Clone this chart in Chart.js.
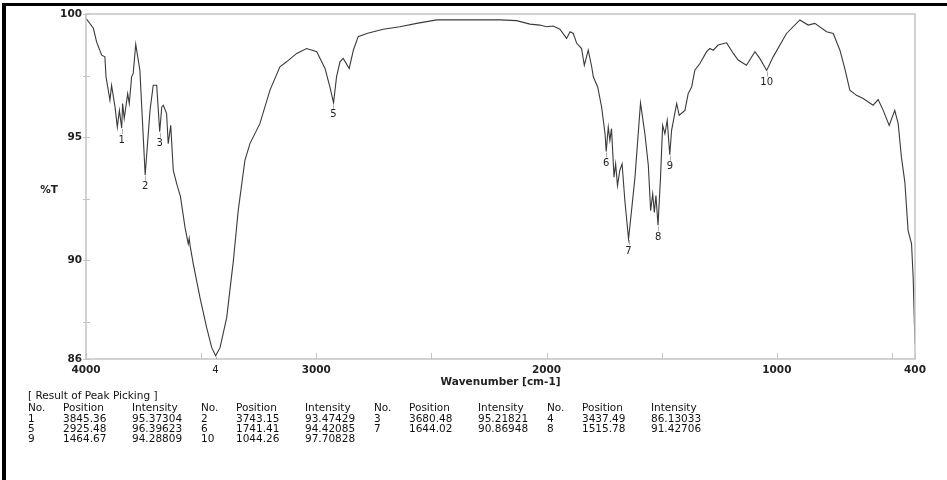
<!DOCTYPE html>
<html>
<head>
<meta charset="utf-8">
<script src="https://cdn.jsdelivr.net/npm/chart.js@4.4.1/dist/chart.umd.min.js"></script>
<style>
html,body{margin:0;padding:0;background:#fff;width:947px;height:480px;overflow:hidden;}
#wrap{position:relative;width:947px;height:480px;overflow:hidden;}
#frame{position:absolute;left:2px;top:3px;width:1000px;height:600px;border-left:4px solid #000;border-top:3px solid #000;}
#c{position:absolute;left:0;top:0;}
#table{position:absolute;left:0;top:0;font:10.5px "DejaVu Sans",sans-serif;color:#111;}
#table div{position:absolute;white-space:nowrap;line-height:12px;}
</style>
</head>
<body>
<div id="wrap">
  <div id="frame"></div>
  <canvas id="c" width="947" height="480"></canvas>
  <div id="table"></div>
</div>
<script>
// ---------------- data ----------------
const wavenumber = [
  4000, 3968, 3954, 3932, 3918, 3913, 3896, 3889, 3874, 3864, 3855, 3845, 3841, 3834, 3819, 3812,
  3802, 3795, 3784, 3766, 3743, 3722, 3708, 3693, 3680, 3671, 3664, 3650, 3643, 3632, 3621, 3606,
  3590, 3570, 3556, 3552, 3548, 3534, 3505, 3476, 3454, 3437, 3418, 3389, 3360, 3339, 3310, 3288,
  3245, 3201, 3158, 3129, 3085, 3042, 2998, 2962, 2941, 2925, 2912, 2897, 2883, 2857, 2839, 2818,
  2781, 2709, 2637, 2564, 2477, 2347, 2202, 2130, 2072, 2029, 2000, 1971, 1942, 1913, 1898, 1884,
  1869, 1848, 1836, 1819, 1804, 1797, 1778, 1761, 1746, 1741, 1732, 1725, 1718, 1707, 1700, 1692,
  1682, 1672, 1660, 1644, 1631, 1616, 1592, 1573, 1558, 1548, 1539, 1532, 1525, 1516, 1505, 1496,
  1486, 1476, 1465, 1457, 1435, 1424, 1399, 1385, 1370, 1356, 1334, 1305, 1291, 1276, 1255, 1218,
  1189, 1168, 1132, 1095, 1074, 1044, 1016, 958, 900, 864, 835, 784, 755, 726, 705, 683,
  654, 625, 582, 560, 538, 512, 488, 473, 459, 444, 430, 415, 408, 400
];
const transmittance = [
  99.82, 99.42, 98.87, 98.33, 98.26, 97.45, 96.50, 97.10, 96.23, 95.41, 96.09, 95.37, 96.37, 95.76, 96.77, 96.37,
  97.45, 97.59, 98.77, 97.72, 93.47, 96.09, 97.11, 97.11, 95.22, 96.23, 96.30, 95.96, 94.74, 95.48, 93.65, 93.11,
  92.60, 91.34, 90.67, 90.90, 90.60, 89.85, 88.49, 87.27, 86.46, 86.13, 86.46, 87.68, 89.99, 92.02, 94.06, 94.74,
  95.55, 96.91, 97.86, 98.06, 98.40, 98.60, 98.47, 97.79, 97.04, 96.40, 97.45, 98.06, 98.20, 97.79, 98.53, 99.08,
  99.21, 99.38, 99.48, 99.62, 99.76, 99.76, 99.76, 99.73, 99.59, 99.55, 99.48, 99.51, 99.38, 99.01, 99.28, 99.21,
  98.81, 98.60, 97.92, 98.53, 97.86, 97.45, 97.04, 96.23, 95.14, 94.42, 95.41, 94.87, 95.35, 93.38, 93.92, 93.04,
  93.65, 93.92, 92.43, 90.87, 92.02, 93.38, 96.39, 95.14, 93.85, 92.02, 92.70, 91.95, 92.63, 91.43, 93.38, 95.48,
  95.14, 95.69, 94.29, 95.28, 96.37, 95.89, 96.09, 96.77, 97.04, 97.72, 97.99, 98.47, 98.60, 98.53, 98.74, 98.83,
  98.40, 98.13, 97.92, 98.47, 98.20, 97.71, 98.26, 99.21, 99.76, 99.55, 99.62, 99.28, 99.21, 98.53, 97.79, 96.91,
  96.70, 96.57, 96.30, 96.53, 96.09, 95.48, 96.09, 95.55, 94.19, 93.17, 91.21, 90.67, 89.31, 86.60
];

// peak picking result
const peakNo  = [1, 2, 3, 4, 5, 6, 7, 8, 9, 10];
const peakPos = ["3845.36", "3743.15", "3680.48", "3437.49", "2925.48", "1741.41", "1644.02", "1515.78", "1464.67", "1044.26"];
const peakInt = ["95.37304", "93.47429", "95.21821", "86.13033", "96.39623", "94.42085", "90.86948", "91.42706", "94.28809", "97.70828"];

// axis ticks
const xTicks  = [4000, 3500, 3000, 2500, 2000, 1500, 1000, 500, 400];
const xLabels = [4000, 3000, 2000, 1000, 400];
const yTicks  = [86, 87.5, 90, 92.5, 95, 97.5, 100];
const yLabels = [86, 90, 95, 100];

const TICK_FONT = { family: "'DejaVu Sans', sans-serif", size: 10.5, weight: "bold" };

// ---------------- overlay: frame, inner ticks, peak labels, axis titles ----------------
const overlay = {
  id: "overlay",
  afterDatasetsDraw(chart){
    const { ctx, chartArea: a, scales: { x, y } } = chart;
    ctx.save();

    ctx.strokeStyle = "#c4c4c4";
    ctx.lineWidth = 1.5;
    ctx.strokeRect(a.left, a.top, a.right - a.left, a.bottom - a.top);

    ctx.lineWidth = 1;
    ctx.beginPath();
    xTicks.forEach(v => {
      const px = Math.round(x.getPixelForValue(v)) + 0.5;
      ctx.moveTo(px, a.bottom);
      ctx.lineTo(px, a.bottom - 6);
    });
    yTicks.forEach(v => {
      const py = Math.round(y.getPixelForValue(v)) + 0.5;
      ctx.moveTo(a.left - 3, py);
      ctx.lineTo(a.left + 4, py);
    });
    ctx.stroke();

    // peak numbers
    ctx.font = "10px 'DejaVu Sans', sans-serif";
    ctx.textAlign = "center";
    ctx.textBaseline = "middle";
    peakNo.forEach((n, i) => {
      const px = x.getPixelForValue(+peakPos[i]);
      const py = y.getPixelForValue(+peakInt[i]);
      ctx.strokeStyle = "#b0b0b0";
      ctx.beginPath();
      ctx.moveTo(Math.round(px) + 0.5, py + 1);
      ctx.lineTo(Math.round(px) + 0.5, Math.min(py + 6, a.bottom));
      ctx.stroke();
      let ly = py + 12;
      if (ly > a.bottom) ly = a.bottom + 11;
      ctx.fillStyle = "#222";
      ctx.fillText(String(n), px, ly);
    });

    ctx.font = "bold 10.5px 'DejaVu Sans', sans-serif";
    ctx.fillStyle = "#222";
    ctx.fillText("%T", a.left - 37, (a.top + a.bottom) / 2 + 4);
    ctx.fillText("Wavenumber [cm-1]", (a.left + a.right) / 2, a.bottom + 23);

    ctx.restore();
  }
};

// ---------------- chart ----------------
const points = wavenumber.map((w, i) => ({ x: w, y: transmittance[i] }));

new Chart(document.getElementById("c").getContext("2d"), {
  type: "line",
  data: {
    datasets: [{
      data: points,
      borderColor: "#3a3a3a",
      borderWidth: 1.1,
      pointRadius: 0,
      tension: 0,
      fill: false
    }]
  },
  options: {
    responsive: false,
    animation: false,
    layout: { padding: { left: 0, right: 32, top: 14, bottom: 81 } },
    plugins: { legend: { display: false }, tooltip: { enabled: false } },
    scales: {
      x: {
        type: "linear",
        reverse: true,
        min: 400,
        max: 4000,
        afterBuildTicks: s => { s.ticks = xTicks.map(v => ({ value: v })); },
        afterFit: s => { s.height = 40; },
        grid: { display: false, drawTicks: false },
        border: { display: false },
        ticks: {
          autoSkip: false,
          maxRotation: 0,
          padding: 5,
          color: "#222",
          font: TICK_FONT,
          callback: v => xLabels.includes(v) ? String(v) : ""
        }
      },
      y: {
        min: 86,
        max: 100,
        afterBuildTicks: s => { s.ticks = yTicks.map(v => ({ value: v })); },
        afterFit: s => { s.width = 86; },
        grid: { display: false, drawTicks: false },
        border: { display: false },
        ticks: {
          autoSkip: false,
          padding: 4,
          color: "#222",
          font: TICK_FONT,
          callback: v => yLabels.includes(v) ? String(v) : ""
        }
      }
    }
  },
  plugins: [overlay]
});

// ---------------- peak table ----------------
const table = document.getElementById("table");
const colX = [28, 63, 132];
const groupW = 173;
const rowTop = [389, 400.5, 411.5, 422, 432];

function cell(text, left, top){
  const d = document.createElement("div");
  d.textContent = text;
  d.style.left = left + "px";
  d.style.top = top + "px";
  table.appendChild(d);
}

cell("[ Result of Peak Picking ]", colX[0], rowTop[0]);
for (let g = 0; g < 4; g++){
  cell("No.", colX[0] + g * groupW, rowTop[1]);
  cell("Position", colX[1] + g * groupW, rowTop[1]);
  cell("Intensity", colX[2] + g * groupW, rowTop[1]);
}
peakNo.forEach((n, i) => {
  const r = Math.floor(i / 4), g = i % 4;
  const top = rowTop[2 + r];
  cell(String(n), colX[0] + g * groupW, top);
  cell(peakPos[i], colX[1] + g * groupW, top);
  cell(peakInt[i], colX[2] + g * groupW, top);
});
</script>
</body>
</html>
